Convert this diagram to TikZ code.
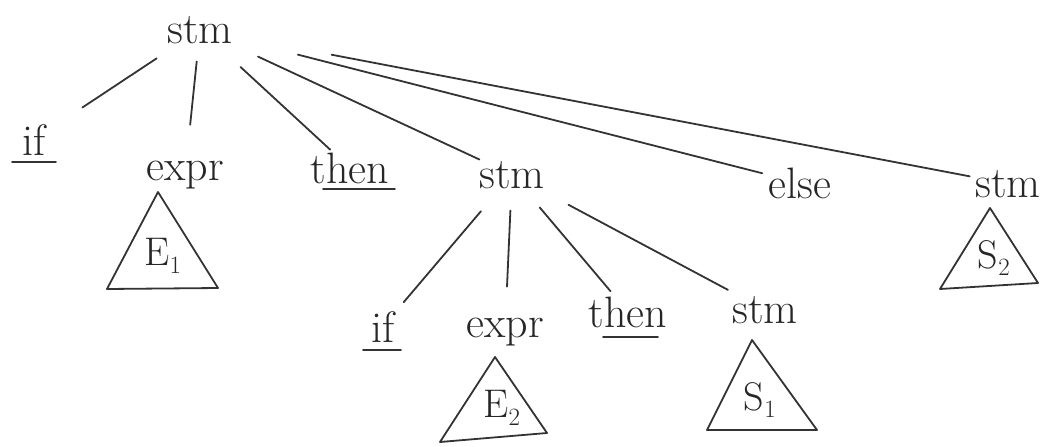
\documentclass[tikz,border=0pt]{standalone}
\begin{document}
\begin{tikzpicture}[x=1pt,y=-1pt,
  ink/.style={draw=black!80, line width=1.8pt, line cap=round, line join=round},
  word/.style={font=\fontsize{44}{48}\selectfont, text=black!85, inner sep=0pt, anchor=base},
  lbl/.style={font=\fontsize{40}{44}\selectfont, text=black!85, inner sep=0pt},
  edge/.style={ink}]
\useasboundingbox (0,0) rectangle (1047,447);
% level 0
\node[word] (s0) at (200,43) {stm};
% level 1
\node[word] (if1) at (34,155) {if};
\node[word] (e1) at (185,180) {expr};
\node[word] (th1) at (350,183) {then};
\node[word] (s1) at (512,188) {stm};
\node[word] (el) at (800,198) {else};
\node[word] (s2) at (1008,197) {stm};
% level 2
\node[word] (if2) at (383,342) {if};
\node[word] (e2) at (505,337) {expr};
\node[word] (th2) at (628,327) {then};
\node[word] (s3) at (765,323) {stm};
% underlines
\draw[ink] ([xshift=-22pt,yshift=-7pt]if1.base) -- ([xshift=22pt,yshift=-7pt]if1.base);
\draw[ink] ([xshift=-27pt,yshift=-6pt]th1.base) -- ([xshift=45pt,yshift=-6pt]th1.base);
\draw[ink] ([xshift=-20pt,yshift=-8pt]if2.base) -- ([xshift=18pt,yshift=-8pt]if2.base);
\draw[ink] ([xshift=-25pt,yshift=-10pt]th2.base) -- ([xshift=30pt,yshift=-10pt]th2.base);
% edges
\draw[edge, shorten <=52pt, shorten >=58pt] (s0.center) -- (if1.center);
\draw[edge, shorten <=32pt, shorten >=50pt] (s0.center) -- (e1.center);
\draw[edge, shorten <=55pt, shorten >=27pt] (s0.center) -- (th1.center);
\draw[edge, shorten <=64pt, shorten >=36pt] (s0.center) -- (s1.center);
\draw[edge, shorten <=101pt, shorten >=39pt] (s0.center) -- (el.center);
\draw[edge, shorten <=134pt, shorten >=39pt] (s0.center) -- (s2.center);
\draw[edge, shorten <=48pt, shorten >=32pt] (s1.center) -- (if2.center);
\draw[edge, shorten <=36pt, shorten >=45pt] (s1.center) -- (e2.center);
\draw[edge, shorten <=43pt, shorten >=27pt] (s1.center) -- (th2.center);
\draw[edge, shorten <=64pt, shorten >=42pt] (s1.center) -- (s3.center);
% subtrees
\coordinate (a1) at (158,192); \coordinate (b1) at (107,289); \coordinate (c1) at (218,288);
\draw[ink] (a1) -- (b1) -- (c1) -- cycle;
\node[lbl] (t1) at (163,256) {E$_1$};
\coordinate (a2) at (495,357); \coordinate (b2) at (440,442); \coordinate (c2) at (547,433);
\draw[ink] (a2) -- (b2) -- (c2) -- cycle;
\node[lbl] (t2) at (502,408) {E$_2$};
\coordinate (a3) at (752,340); \coordinate (b3) at (707,430); \coordinate (c3) at (817,430);
\draw[ink] (a3) -- (b3) -- (c3) -- cycle;
\node[lbl] (t3) at (760,400) {S$_1$};
\coordinate (a4) at (990,208); \coordinate (b4) at (940,289); \coordinate (c4) at (1038,283);
\draw[ink] (a4) -- (b4) -- (c4) -- cycle;
\node[lbl] (t4) at (994,258) {S$_2$};
\end{tikzpicture}
\end{document}
